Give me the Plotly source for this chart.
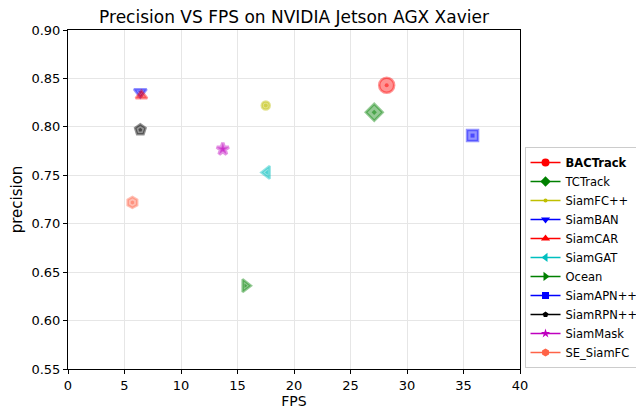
import plotly.graph_objects as go

names = ["<b>BACTrack</b>", "TCTrack", "SiamFC++", "SiamBAN", "SiamCAR", "SiamGAT",
         "Ocean", "SiamAPN++", "SiamRPN++", "SiamMask", "SE_SiamFC"]
fps = [28.2, 27.1, 17.5, 6.4, 6.5, 17.6, 15.7, 35.8, 6.4, 13.7, 5.7]
precision = [0.843, 0.815, 0.822, 0.836, 0.832, 0.753, 0.636, 0.791, 0.797, 0.777, 0.722]
colors = ["#ff0000", "#008000", "#bfbf00", "#0000ff", "#ff0000", "#00bfbf",
          "#008000", "#0000ff", "#000000", "#bf00bf", "#ff6347"]
symbols = ["circle", "diamond", "circle", "triangle-down", "triangle-up", "triangle-left",
           "triangle-right", "square", "pentagon", "star", "hexagon"]
sizes = [15, 13, 8, 11, 10, 11, 11, 11, 11, 9, 11]
legend_sizes = [8, 8, 4, 8, 8, 8, 8, 7, 6, 7, 8]


def rgba(h, a):
    h = h.lstrip("#")
    r, g, b = int(h[0:2], 16), int(h[2:4], 16), int(h[4:6], 16)
    return f"rgba({r},{g},{b},{a})"


fig = go.Figure()
for i in range(len(names)):
    fig.add_trace(go.Scatter(
        x=[fps[i]], y=[precision[i]], mode="markers", showlegend=False,
        marker=dict(symbol=symbols[i], size=sizes[i], color=rgba(colors[i], 0.42),
                    line=dict(color=rgba(colors[i], 0.42),
                              width=3.5 if symbols[i] == "star" else 2.5)),
        hoverinfo="skip"))
    fig.add_trace(go.Scatter(
        x=[fps[i]], y=[precision[i]], mode="markers", showlegend=False,
        marker=dict(symbol=symbols[i], size=4, color=rgba(colors[i], 0.5),
                    line=dict(width=0)),
        hoverinfo="skip"))
for i in range(len(names)):
    fig.add_trace(go.Scatter(
        x=[None], y=[None], mode="lines+markers", name=names[i],
        line=dict(color=colors[i], width=1.5),
        marker=dict(symbol=symbols[i], size=legend_sizes[i], color=colors[i],
                    line=dict(width=0))))

axis_common = dict(showline=True, linecolor="black", linewidth=1, mirror=True,
                   ticks="outside", ticklen=4, tickcolor="black", tickwidth=1,
                   showgrid=True, gridcolor="#e6e6e6", gridwidth=1, zeroline=False,
                   tickfont=dict(family="DejaVu Sans", size=13, color="black"))

fig.update_layout(
    width=636, height=409,
    margin=dict(l=68, r=116, t=30, b=40, autoexpand=False),
    paper_bgcolor="white", plot_bgcolor="white",
    font=dict(family="DejaVu Sans", color="black"),
    title=dict(text="Precision VS FPS on NVIDIA Jetson AGX Xavier",
               x=(68 + 520) / 2 / 636, xanchor="center", y=1 - 17 / 409, yanchor="middle",
               font=dict(size=17, family="DejaVu Sans", color="black")),
    xaxis=dict(range=[0, 40], dtick=5, title=dict(text="FPS", font=dict(size=14), standoff=7),
               **axis_common),
    yaxis=dict(range=[0.55, 0.90], dtick=0.05, tickformat=".2f",
               title=dict(text="precision", font=dict(size=15), standoff=5), **axis_common),
    legend=dict(x=1.01, xanchor="left", y=0.003, yanchor="bottom",
                bordercolor="#cccccc", borderwidth=1, bgcolor="white",
                font=dict(size=11.5, family="DejaVu Sans", color="black"),
                tracegroupgap=0, itemwidth=30),
)

fig.write_html("out.html")
